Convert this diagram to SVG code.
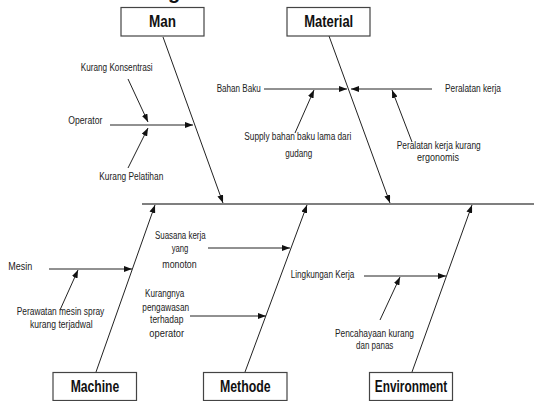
<svg xmlns="http://www.w3.org/2000/svg" width="534" height="401" viewBox="0 0 534 401">
<defs>
<marker id="ah" viewBox="0 0 8 6" refX="8" refY="3" markerWidth="8" markerHeight="6" markerUnits="userSpaceOnUse" orient="auto">
<path d="M0 0 L8 3 L0 6 Z" fill="#111"/>
</marker>
<style>
.box{fill:#fff;stroke:#444;stroke-width:1.2}
.bl{font-family:"Liberation Sans",Arial,sans-serif;font-weight:bold;font-size:16px;fill:#111;text-anchor:middle}
.t{font-family:"Liberation Sans",Arial,sans-serif;font-size:10px;fill:#222}
.c{text-anchor:middle}
.ln{stroke:#222;stroke-width:1;fill:none;marker-end:url(#ah)}
.sp{stroke:#555;stroke-width:1.6;fill:none}
</style>
</defs>
<rect width="534" height="401" fill="#fff"/>
<text x="174" y="-1.5" class="bl" style="font-size:20px">g</text>

<g id="connectors">
<path class="sp" d="M142 204 H534"/>
<path class="ln" d="M163 37 L223 203"/>
<path class="ln" d="M329 36 L390 203"/>
<path class="ln" d="M96 372 L155 205"/>
<path class="ln" d="M245 372 L307 205"/>
<path class="ln" d="M412 372 L472 205"/>
<path class="ln" d="M110 125 H193"/>
<path class="ln" d="M128 79 L148 122"/>
<path class="ln" d="M128 168 L148 128"/>
<path class="ln" d="M264 89 H347"/>
<path class="ln" d="M432 89 H351"/>
<path class="ln" d="M295 133 L314 90"/>
<path class="ln" d="M412 142 L392 90"/>
<path class="ln" d="M49 269 H132"/>
<path class="ln" d="M60 310 L78 270"/>
<path class="ln" d="M208 248 H290"/>
<path class="ln" d="M190 316 H266"/>
<path class="ln" d="M364 276 H446"/>
<path class="ln" d="M380 320 L400 277"/>
</g>

<g id="man"><rect class="box" x="121" y="7.5" width="83" height="28.5"/><text class="bl" x="162.5" y="27.3" textLength="27" lengthAdjust="spacingAndGlyphs">Man</text></g>
<g id="material"><rect class="box" x="287" y="7.5" width="83" height="28.5"/><text class="bl" x="328.7" y="27.3" textLength="49" lengthAdjust="spacingAndGlyphs">Material</text></g>
<g id="machine"><rect class="box" x="53" y="372.5" width="83.5" height="28"/><text class="bl" x="95" y="391.7" textLength="48.6" lengthAdjust="spacingAndGlyphs">Machine</text></g>
<g id="methode"><rect class="box" x="203.5" y="372.5" width="83.5" height="28"/><text class="bl" x="245.3" y="391.7" textLength="50.7" lengthAdjust="spacingAndGlyphs">Methode</text></g>
<g id="environment"><rect class="box" x="369.5" y="372.5" width="83" height="28"/><text class="bl" x="411" y="391.7" textLength="72.3" lengthAdjust="spacingAndGlyphs">Environment</text></g>

<g id="kurang-konsentrasi"><text class="t" x="80.7" y="71" textLength="72" lengthAdjust="spacingAndGlyphs">Kurang Konsentrasi</text></g>
<g id="operator"><text class="t" x="68.3" y="124" textLength="34" lengthAdjust="spacingAndGlyphs">Operator</text></g>
<g id="kurang-pelatihan"><text class="t" x="99.3" y="180" textLength="64" lengthAdjust="spacingAndGlyphs">Kurang Pelatihan</text></g>
<g id="bahan-baku"><text class="t" x="216.7" y="92" textLength="44" lengthAdjust="spacingAndGlyphs">Bahan Baku</text></g>
<g id="peralatan-kerja"><text class="t" x="445" y="92" textLength="56" lengthAdjust="spacingAndGlyphs">Peralatan kerja</text></g>
<g id="supply"><text class="t" x="244.3" y="140" textLength="107" lengthAdjust="spacingAndGlyphs">Supply bahan baku lama dari</text><text class="t c" x="298.7" y="157" textLength="27" lengthAdjust="spacingAndGlyphs">gudang</text></g>
<g id="ergonomis"><text class="t" x="396.7" y="149" textLength="84" lengthAdjust="spacingAndGlyphs">Peralatan kerja kurang</text><text class="t c" x="438" y="161" textLength="42" lengthAdjust="spacingAndGlyphs">ergonomis</text></g>
<g id="mesin"><text class="t" x="8.3" y="270" textLength="24" lengthAdjust="spacingAndGlyphs">Mesin</text></g>
<g id="perawatan"><text class="t" x="16.7" y="315" textLength="87.6" lengthAdjust="spacingAndGlyphs">Perawatan mesin spray</text><text class="t c" x="61.3" y="328.3" textLength="62.7" lengthAdjust="spacingAndGlyphs">kurang terjadwal</text></g>
<g id="suasana"><text class="t c" x="180.3" y="239" textLength="50.7" lengthAdjust="spacingAndGlyphs">Suasana kerja</text><text class="t c" x="180" y="252" textLength="16.7" lengthAdjust="spacingAndGlyphs">yang</text><text class="t c" x="179.5" y="268.3" textLength="34.4" lengthAdjust="spacingAndGlyphs">monoton</text></g>
<g id="kurangnya"><text class="t c" x="164.7" y="297.3" textLength="39.3" lengthAdjust="spacingAndGlyphs">Kurangnya</text><text class="t c" x="165.7" y="310.7" textLength="46.7" lengthAdjust="spacingAndGlyphs">pengawasan</text><text class="t c" x="166.7" y="323.3" textLength="33.3" lengthAdjust="spacingAndGlyphs">terhadap</text><text class="t c" x="166.7" y="337.3" textLength="34.7" lengthAdjust="spacingAndGlyphs">operator</text></g>
<g id="lingkungan"><text class="t" x="290.7" y="278.3" textLength="63.6" lengthAdjust="spacingAndGlyphs">Lingkungan Kerja</text></g>
<g id="pencahayaan"><text class="t" x="335" y="336.5" textLength="79" lengthAdjust="spacingAndGlyphs">Pencahayaan kurang</text><text class="t c" x="374.7" y="349" textLength="37.3" lengthAdjust="spacingAndGlyphs">dan panas</text></g>
</svg>
